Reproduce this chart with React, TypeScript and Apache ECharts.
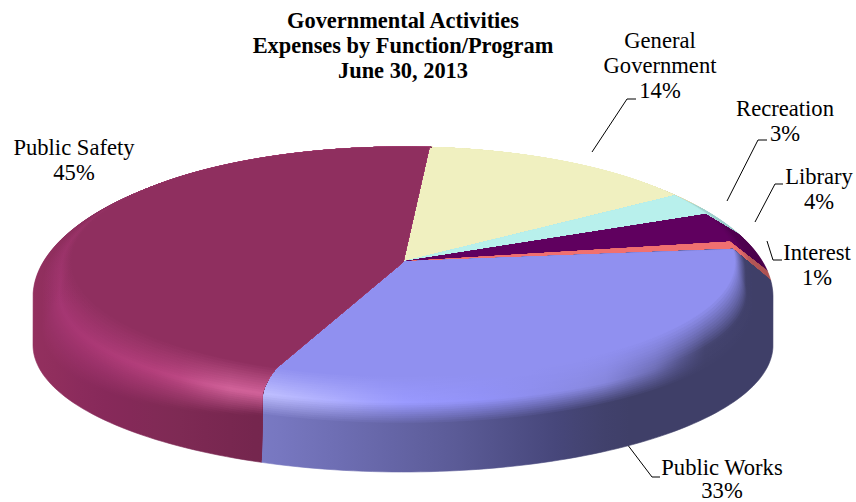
import React, { useEffect, useRef } from "react";
import * as echarts from "echarts";

// Expense shares by function, clockwise from Public Safety's far edge.
const categories = ["General\nGovernment", "Recreation", "Library", "Interest", "Public Works", "Public Safety"];
const shares = [14, 3, 4, 1, 33, 45];
const titleLines = ["Governmental Activities", "Expenses by Function/Program", "June 30, 2013"];

// Where each label and its leader sit, in the same order as the categories.
const labelSpots = [
  [660, 28], [785, 96], [819, 164], [817, 240], [722, 456], [74, 135],
];
const labelLeading = [25, 25, 25, 25, 23, 25];
const leaders = [
  [[592, 152], [627, 99], [636, 99]],
  [[727, 201], [758, 140], [767, 140]],
  [[755, 222], [775, 184], [783, 184]],
  [[767, 241], [773, 260], [782, 260]],
  [[627, 444], [652, 477], [660, 477]],
];

type Stops = [number, string][];
type Stops2 = [number, number][];
type Shade = { flat: string; wall: Stops; crest: Stops; rampStart: Stops2; fadeBack?: boolean };

// Flat top colour, plus left-to-right tones of the side wall and the bevel crest.
const steadyRamp: Stops2 = [[0, 0.5], [856, 0.5]];
const shades: Shade[] = [
  { flat: "#f0f0c0", wall: [[400, "#e4e4b8"], [700, "#d8d8b0"]], crest: [[400, "#f0f0c0"], [700, "#e4e4b8"]], rampStart: steadyRamp },
  { flat: "#b8f0ec", wall: [[660, "#a8dcd8"], [740, "#98c8c8"]], crest: [[660, "#b8f0ec"], [740, "#a8dcd8"]], rampStart: steadyRamp },
  { flat: "#60005f", wall: [[700, "#580058"], [770, "#480048"]], crest: [[700, "#60005f"], [770, "#500050"]], rampStart: steadyRamp },
  { flat: "#f07070", wall: [[720, "#c86060"], [770, "#a85050"]], crest: [[720, "#f07070"], [770, "#c86060"]], rampStart: steadyRamp },
  {
    flat: "#9090f0",
    wall: [[262, "#7a7ac4"], [350, "#6c6cb0"], [450, "#5c5c98"], [550, "#48487c"], [620, "#3f3f68"], [773, "#3f3f68"]],
    crest: [[262, "#c0c0ff"], [330, "#b0b0ff"], [400, "#9a9aff"], [480, "#9292f8"], [600, "#8888e0"], [660, "#6a6ab0"], [700, "#444470"], [773, "#3f3f68"]],
    rampStart: steadyRamp,
  },
  {
    flat: "#8f2f5f",
    wall: [[34, "#93305f"], [100, "#88295a"], [170, "#7f2a55"], [262, "#74264d"]],
    crest: [[34, "#a03570"], [90, "#ab3875"], [170, "#b8427f"], [225, "#d2629a"], [262, "#d2629a"]],
    rampStart: [[34, 0.2], [262, 0.5]],
    fadeBack: true,
  },
];

const SERIF = '"Liberation Serif", "Times New Roman", serif';
const APEX_X = 403;
const APEX_Y = 262;
const START_DEG = 4.5; // far edge of the first slice, clockwise from straight back
const LAYERS = 44;
const CREST_T = 0.72;

const lerp = (a: number, b: number, k: number) => a + (b - a) * k;
const clamp01 = (v: number) => Math.min(1, Math.max(0, v));
const rgb = (hex: string) => [1, 3, 5].map((i) => parseInt(hex.slice(i, i + 2), 16));

function mixHex(a: string, b: string, k: number) {
  const ca = rgb(a);
  const cb = rgb(b);
  return ca.map((c, i) => lerp(c, cb[i], k));
}

function sampleStops(stops: Stops, x: number) {
  if (x <= stops[0][0]) return stops[0][1];
  for (let i = 1; i < stops.length; i++) {
    if (x <= stops[i][0]) {
      const k = (x - stops[i - 1][0]) / (stops[i][0] - stops[i - 1][0]);
      const c = mixHex(stops[i - 1][1], stops[i][1], k).map((v) => Math.round(v));
      return "#" + c.map((v) => v.toString(16).padStart(2, "0")).join("");
    }
  }
  return stops[stops.length - 1][1];
}

function sampleRamp(stops: Stops2, x: number) {
  const k = clamp01((x - stops[0][0]) / (stops[1][0] - stops[0][0]));
  return lerp(stops[0][1], stops[1][1], k);
}

// t runs from the outer silhouette (0) to the flat top's edge (1).
function surfaceColor(s: Shade, x: number, t: number) {
  const wall = sampleStops(s.wall, x);
  const crest = sampleStops(s.crest, x);
  const start = sampleRamp(s.rampStart, x);
  let c: number[];
  if (t < start) c = rgb(wall);
  else if (t < CREST_T) c = mixHex(wall, crest, (t - start) / (CREST_T - start));
  else c = mixHex(crest, s.flat, (t - CREST_T) / (1 - CREST_T));
  return `rgb(${c.map((v) => Math.round(v)).join(",")})`;
}

function layerFill(s: Shade, t: number) {
  const colorStops = [];
  for (let x = 30; x <= 780; x += 25) {
    colorStops.push({ offset: (x - 30) / 750, color: surfaceColor(s, x, t) });
  }
  return { type: "linear", x: 30, y: 0, x2: 780, y2: 0, global: true, colorStops };
}

// Disc surface point for a clockwise angle from the back, at bevel depth t.
// Toward the viewer the wall stays upright until the crest, then rolls inward.
function surfacePoint(deg: number, t: number): number[] {
  const r = (deg * Math.PI) / 180;
  const sin = Math.sin(r);
  const cos = Math.cos(r);
  const straight = lerp(370, 332, t);
  const rolled = t <= CREST_T ? 370 : 370 - 38 * Math.pow((t - CREST_T) / (1 - CREST_T), 1.5);
  const x = APEX_X + lerp(straight, rolled, clamp01(-cos)) * sin;
  if (cos >= 0) return [x, lerp(297, 262, t) - lerp(150, 115, t) * cos];
  return [x, lerp(345, 262, t) - lerp(127, 115, t) * cos];
}

function wedge(from: number, to: number, t: number) {
  const pts: number[][] = [[APEX_X, APEX_Y]];
  const steps = Math.max(2, Math.ceil((to - from) / 1.5));
  const SIDE = 10;
  for (let i = 0; i <= SIDE; i++) pts.push(surfacePoint(from, lerp(1, t, i / SIDE)));
  for (let i = 1; i < steps; i++) pts.push(surfacePoint(lerp(from, to, i / steps), t));
  for (let i = 0; i <= SIDE; i++) pts.push(surfacePoint(to, lerp(t, 1, i / SIDE)));
  return pts;
}

function renderSlice(params: any, api: any) {
  const idx = params.dataIndex;
  const before = shares.slice(0, idx).reduce((a, b) => a + b, 0);
  const from = START_DEG + before * 3.6;
  const to = from + api.value(0) * 3.6;
  const shade = shades[idx];
  const children: any[] = [];
  for (let k = 0; k <= LAYERS; k++) {
    const t = k / LAYERS;
    const fill = layerFill(shade, t);
    children.push({
      type: "polygon",
      shape: { points: wedge(from, to, t) },
      style: { fill, stroke: fill, lineWidth: 0.6 },
      silent: true,
    });
  }
  if (shade.fadeBack) {
    const c = rgb(shade.flat).join(",");
    children.push({
      type: "polygon",
      shape: { points: wedge(from, to, 0) },
      style: {
        fill: {
          type: "linear", x: 0, y: 190, x2: 0, y2: 305, global: true,
          colorStops: [
            { offset: 0, color: `rgba(${c},1)` },
            { offset: 1, color: `rgba(${c},0)` },
          ],
        },
      },
      silent: true,
    });
  }
  return { type: "group", children };
}

export default function App() {
  const ref = useRef<HTMLDivElement>(null);
  useEffect(() => {
    const chart = echarts.init(ref.current!, null, { renderer: "svg" });
    const labelText = labelSpots.map(([x, y], i) => ({
      type: "text",
      x,
      y,
      silent: true,
      style: {
        text: `${categories[i]}\n${shares[i]}%`,
        fontFamily: SERIF,
        fontSize: 22.6,
        lineHeight: labelLeading[i],
        align: "center",
        verticalAlign: "top",
        fill: "#000",
      },
    }));
    const leaderLines = leaders.map((points) => ({
      type: "polyline",
      silent: true,
      shape: { points },
      style: { stroke: "#000", lineWidth: 1, fill: "none" },
    }));
    chart.setOption({
      animation: false,
      backgroundColor: "#fff",
      title: {
        text: titleLines.join("\n"),
        left: 398,
        top: 3,
        textAlign: "center",
        textStyle: { fontFamily: SERIF, fontWeight: "bold", fontSize: 22.4, lineHeight: 25, color: "#000" },
      },
      series: [
        {
          type: "custom",
          coordinateSystem: "none",
          silent: true,
          renderItem: renderSlice,
          data: shares.map((v) => [v]),
        },
      ],
      graphic: { elements: [...leaderLines, ...labelText] },
    });
    return () => chart.dispose();
  }, []);
  return <div ref={ref} style={{ position: "fixed", left: 0, top: 0, width: 856, height: 502 }} />;
}
